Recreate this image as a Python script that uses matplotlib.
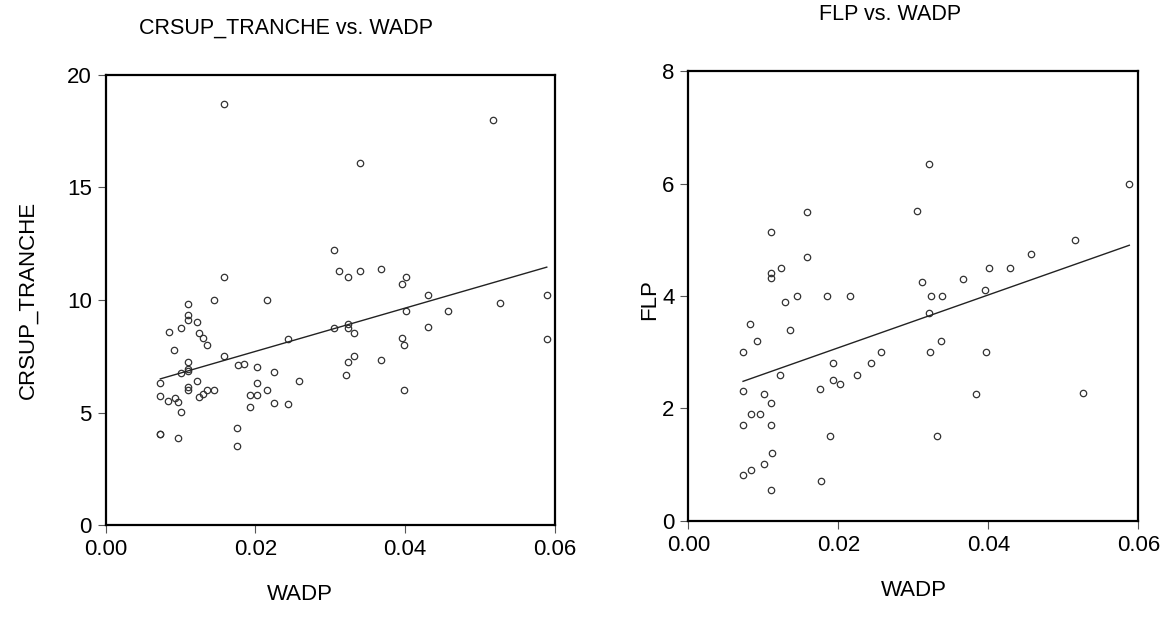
import matplotlib
matplotlib.use('Agg')
import matplotlib.pyplot as plt
import numpy as np

plt.rcParams['font.family'] = ['Liberation Sans', 'DejaVu Sans']

### Data

# CRSUP_TRANCHE vs WADP
wadp_1 = [0.0158, 0.0158,
          0.0110, 0.0145, 0.0216, 0.0110, 0.0110, 0.0122, 0.0084, 0.0101,
          0.0124, 0.0130, 0.0135, 0.0244, 0.0091, 0.0158, 0.0177, 0.0185,
          0.0202, 0.0110, 0.0110, 0.0110, 0.0101, 0.0225, 0.0073, 0.0122,
          0.0202, 0.0258, 0.0110, 0.0110, 0.0135, 0.0145, 0.0216, 0.0124,
          0.0130, 0.0073, 0.0083, 0.0092, 0.0096, 0.0193, 0.0202, 0.0193,
          0.0225, 0.0244, 0.0100, 0.0073, 0.0073, 0.0096, 0.0175, 0.0175,
          0.0517, 0.0339, 0.0305, 0.0312, 0.0323, 0.0339, 0.0367, 0.0401,
          0.0396, 0.0430, 0.0589,
          0.0401, 0.0457, 0.0527, 0.0305, 0.0323, 0.0323, 0.0332, 0.0430,
          0.0396, 0.0398, 0.0589, 0.0332, 0.0323, 0.0367, 0.0321, 0.0398]
crsup = [18.70, 11.00,
         9.81, 10.02, 10.02, 9.33, 9.13, 9.03, 8.57, 8.78,
         8.52, 8.32, 8.02, 8.28, 7.80, 7.52, 7.12, 7.16,
         7.01, 7.24, 6.96, 6.87, 6.78, 6.82, 6.32, 6.42,
         6.33, 6.42, 6.13, 6.02, 6.02, 6.02, 6.02, 5.72,
         5.81, 5.74, 5.53, 5.64, 5.47, 5.77, 5.79, 5.24,
         5.43, 5.39, 5.03, 4.08, 4.04, 3.89, 4.33, 3.53,
         17.99, 16.10, 12.21, 11.31, 11.01, 11.28, 11.37, 11.01,
         10.73, 10.21, 10.24,
         9.50, 9.52, 9.86, 8.78, 8.92, 8.76, 8.52, 8.82,
         8.32, 8.02, 8.26, 7.52, 7.27, 7.33, 6.69, 6.02]

# FLP vs WADP
wadp_2 = [0.0158, 0.0110, 0.0158, 0.0124, 0.0110, 0.0110,
          0.0129, 0.0145, 0.0185, 0.0216, 0.0082, 0.0135, 0.0091, 0.0073,
          0.0257, 0.0193, 0.0244, 0.0122, 0.0225, 0.0193, 0.0202, 0.0175,
          0.0073, 0.0101, 0.0110, 0.0083, 0.0096, 0.0073, 0.0110, 0.0189,
          0.0111, 0.0101, 0.0083, 0.0073, 0.0177, 0.0110,
          0.0321, 0.0588, 0.0305, 0.0516, 0.0457, 0.0401, 0.0429, 0.0312,
          0.0366, 0.0396, 0.0323, 0.0338,
          0.0321, 0.0337, 0.0322, 0.0397, 0.0384, 0.0526, 0.0332]
flp = [5.50, 5.13, 4.70, 4.50, 4.40, 4.31,
       3.90, 4.00, 4.00, 4.00, 3.50, 3.40, 3.20, 3.00,
       3.00, 2.81, 2.81, 2.60, 2.60, 2.50, 2.43, 2.35,
       2.30, 2.25, 2.10, 1.90, 1.90, 1.71, 1.70, 1.50,
       1.20, 1.00, 0.90, 0.81, 0.70, 0.55,
       6.35, 6.00, 5.51, 5.00, 4.75, 4.50, 4.50, 4.25,
       4.30, 4.10, 4.00, 4.00,
       3.69, 3.20, 3.00, 3.00, 2.25, 2.28, 1.50]

xticks = [0.00, 0.02, 0.04, 0.06]
xticklabels = ['0.00', '0.02', '0.04', '0.06']


def scatter_panel(ax, x, y, ylim, yticks):
    x = np.array(x)
    y = np.array(y)
    ax.plot(x, y, 'o', ms=4.6, mfc='none', mec='#333333', mew=0.9)
    b, a = np.polyfit(x, y, 1)
    xs = np.array([x.min(), x.max()])
    ax.plot(xs, a + b * xs, color='#222222', lw=1.0)
    ax.set_xlim(0, 0.06)
    ax.set_ylim(*ylim)
    ax.set_xticks(xticks)
    ax.set_xticklabels(xticklabels)
    ax.set_yticks(yticks)
    for s in ax.spines.values():
        s.set_linewidth(1.6)
        s.set_color('black')
    ax.tick_params(direction='out', length=6, width=0.8, color='#555555',
                   labelsize=16, pad=4)


fig = plt.figure(figsize=(11.65, 6.3), dpi=100)

ax1 = fig.add_axes([0.0907, 0.1659, 0.3857, 0.7157])
scatter_panel(ax1, wadp_1, crsup, (0, 20), [0, 5, 10, 15, 20])

ax2 = fig.add_axes([0.5908, 0.1735, 0.3863, 0.7136])
scatter_panel(ax2, wadp_2, flp, (0, 8), [0, 2, 4, 6, 8])

# titles and axis labels
fig.text(286/1165, 1 - 28/630, 'CRSUP_TRANCHE vs. WADP', ha='center', va='center', fontsize=15.5)
fig.text(890/1165, 1 - 15/630, 'FLP vs. WADP', ha='center', va='center', fontsize=15.5)
fig.text(300/1165, 1 - 595/630, 'WADP', ha='center', va='center', fontsize=16)
fig.text(914/1165, 1 - 590/630, 'WADP', ha='center', va='center', fontsize=16)
fig.text(28/1165, 1 - 300/630, 'CRSUP_TRANCHE', ha='center', va='center', rotation=90, fontsize=16)
fig.text(650/1165, 1 - 300/630, 'FLP', ha='center', va='center', rotation=90, fontsize=16)

fig.savefig('out.png', dpi=100)
